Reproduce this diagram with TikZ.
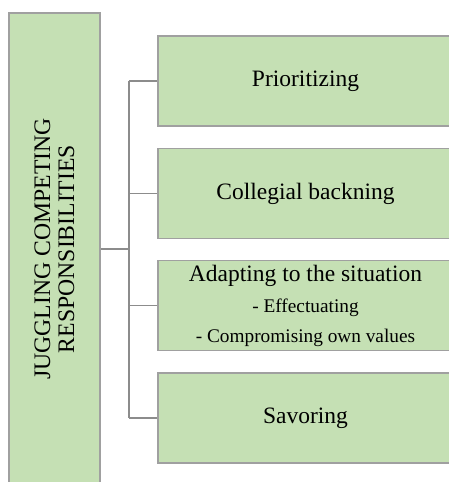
\documentclass[tikz,border=0pt]{standalone}
\usepackage{fontspec}
\setmainfont{Liberation Serif}
\usetikzlibrary{positioning}
\usepackage{xcolor}
\definecolor{leafgreen}{HTML}{C5E0B4}
\definecolor{edgegray}{HTML}{A0A0A0}
\definecolor{linkgray}{HTML}{8C8C8C}

\begin{document}
\begin{tikzpicture}[x=1pt, y=1pt, node distance=21pt,
    box/.style={draw=edgegray, line width=1.4pt, fill=leafgreen, rectangle},
    branch/.style={box, minimum width=295pt, minimum height=90pt, align=center, font=\fontsize{23.5}{28}\selectfont},
    link/.style={draw=linkgray, line width=1.4pt}]
    \useasboundingbox (0,0) rectangle (449,482);
    \clip (0,0) rectangle (449,482);

    \node[box, rotate=90, minimum width=472pt, minimum height=91pt, align=center, font=\fontsize{23.7}{24}\selectfont] (root) at (54.5,233) {JUGGLING COMPETING\\RESPONSIBILITIES};

    \node[branch] (prior) at (305.5,401) {Prioritizing};
    \node[branch, below=of prior] (backing) {Collegial backning};
    \node[branch, below=of backing] (adapt) {Adapting to the situation\\[3pt]{\fontsize{19.3}{24}\selectfont - Effectuating}\\[2pt]{\fontsize{19.3}{24}\selectfont - Compromising own values}};
    \node[branch, below=of adapt] (savor) {Savoring};

    \coordinate (trunk) at (129,0);
    \draw[link] (root.south) -- (root.south -| trunk);
    \draw[link] (prior.west -| trunk) -- (savor.west -| trunk);
    \draw[link] (prior.west) -- (prior.west -| trunk);
    \draw[link] (backing.west) -- (backing.west -| trunk);
    \draw[link] (adapt.west) -- (adapt.west -| trunk);
    \draw[link] (savor.west) -- (savor.west -| trunk);
\end{tikzpicture}
\end{document}
